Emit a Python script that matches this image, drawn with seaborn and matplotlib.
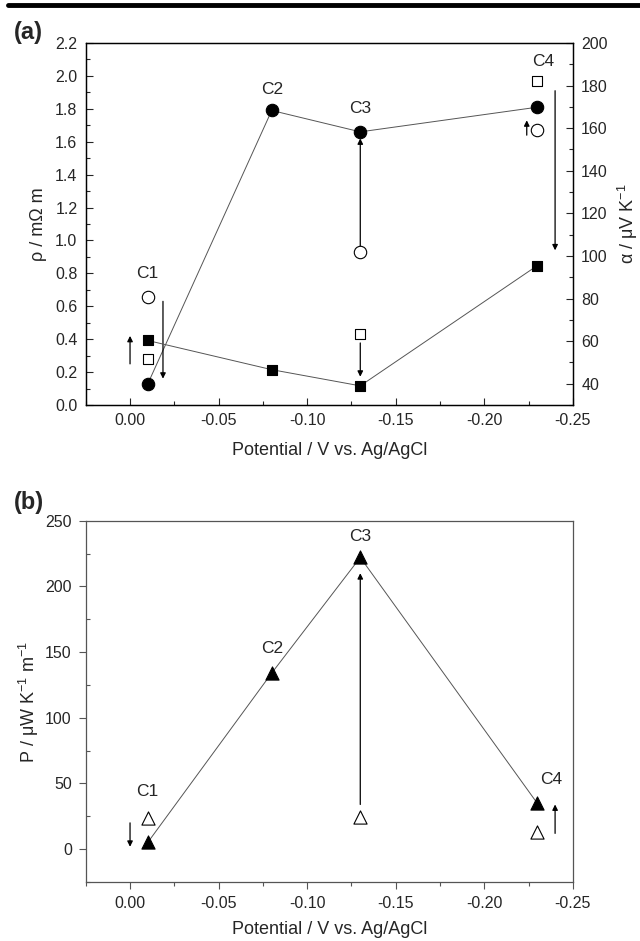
import seaborn as sns
import matplotlib.pyplot as plt
from matplotlib.lines import Line2D
from matplotlib.ticker import MultipleLocator

# ----- datos -----
etiquetas = ['C1', 'C2', 'C3', 'C4']
potencial = [-0.01, -0.08, -0.13, -0.23]

# panel (a): resistividad (eje izq.) y Seebeck (eje der.)
rho_final = [0.128, 1.79, 1.66, 1.81]          # circulos llenos
pot_inicial = [-0.01, -0.13, -0.23]
rho_inicial = [0.658, 0.93, 1.67]              # circulos vacios
alpha_final = [60.3, 46.6, 39.0, 95.5]         # cuadrados llenos
alpha_inicial = [51.6, 63.5, 182.0]            # cuadrados vacios

# panel (b): factor de potencia
P_final = [5.1, 134.0, 222.0, 34.8]            # triangulos llenos
P_inicial = [23.8, 24.6, 12.7]                 # triangulos vacios

# flechas (x, y_inicio, y_fin) en unidades del eje izquierdo
flechas_a = [(0.00, 0.25, 0.42), (-0.0186, 0.63, 0.16), (-0.13, 0.96, 1.62),
             (-0.13, 0.377, 0.172), (-0.224, 1.64, 1.73), (-0.24, 1.91, 0.94)]
flechas_b = [(0.00, 20.0, 1.8), (-0.13, 34.0, 210.0), (-0.24, 12.0, 34.0)]

# posiciones de las etiquetas C1..C4
pos_a = [(-0.01, 0.80), (-0.08, 1.92), (-0.13, 1.80), (-0.233, 2.09)]
pos_b = [(-0.01, 43.6), (-0.08, 153.0), (-0.13, 238.0), (-0.238, 53.0)]

sns.set_style("ticks")
plt.rcParams['font.family'] = ['Liberation Sans', 'DejaVu Sans']
plt.rcParams['mathtext.fontset'] = 'custom'
plt.rcParams['mathtext.rm'] = 'Liberation Sans'
plt.rcParams['mathtext.it'] = 'Liberation Sans:italic'
plt.rcParams['font.size'] = 11.5

T_TICK = 11.5
T_EJE = 13
T_C = 12.5

fig = plt.figure(figsize=(6.4, 9.41), dpi=100)
ax = fig.add_axes([0.134, 0.5696, 0.761, 0.3847])
ax2 = ax.twinx()
bx = fig.add_axes([0.134, 0.0627, 0.761, 0.384])

linea = dict(color='#555555', lw=0.7, sort=False, legend=False)
lleno = dict(color='black', edgecolor='black', linewidth=0.8, zorder=5, legend=False)
vacio = dict(color='white', edgecolor='black', linewidth=0.8, zorder=5, legend=False)

# ----- panel (a) -----
sns.lineplot(x=potencial, y=rho_final, ax=ax, **linea)
sns.scatterplot(x=potencial, y=rho_final, ax=ax, marker='o', s=80, **lleno)
sns.scatterplot(x=pot_inicial, y=rho_inicial, ax=ax, marker='o', s=80, **vacio)
sns.lineplot(x=potencial, y=alpha_final, ax=ax2, **linea)
sns.scatterplot(x=potencial, y=alpha_final, ax=ax2, marker='s', s=60, **lleno)
sns.scatterplot(x=pot_inicial, y=alpha_inicial, ax=ax2, marker='s', s=60, **vacio)

ax.set_xlim(0.025, -0.25)
ax.set_ylim(0, 2.2)
ax2.set_ylim(30, 200)
ax.xaxis.set_major_locator(MultipleLocator(0.05))
ax.xaxis.set_minor_locator(MultipleLocator(0.025))
ax.yaxis.set_major_locator(MultipleLocator(0.2))
ax.yaxis.set_minor_locator(MultipleLocator(0.1))
ax2.yaxis.set_major_locator(MultipleLocator(20))
ax2.yaxis.set_minor_locator(MultipleLocator(10))
ax.xaxis.set_major_formatter(lambda v, p: f"{v:.2f}".replace('-0.00', '0.00'))
ax.yaxis.set_major_formatter(lambda v, p: f"{v:.1f}")

for a in (ax, ax2):
    a.tick_params(which='major', direction='in', length=5, width=0.8, pad=6,
                  labelsize=T_TICK)
    a.tick_params(which='minor', direction='in', length=3, width=0.8)
    for s in a.spines.values():
        s.set_visible(True)
        s.set_linewidth(0.9)
        s.set_color('black')
ax.tick_params(top=False, which='both')
ax.set_xlabel("Potential / V vs. Ag/AgCl", fontsize=T_EJE, labelpad=10)
ax.set_ylabel("ρ / mΩ m", fontsize=T_EJE, labelpad=6)
ax2.set_ylabel("α / μV K$^{-1}$", fontsize=T_EJE, labelpad=6)

for x, y0, y1 in flechas_a:
    ax.annotate('', xy=(x, y1), xytext=(x, y0),
                arrowprops=dict(arrowstyle='-|>', color='black', lw=0.9,
                                mutation_scale=8, shrinkA=0, shrinkB=0))
for t, (x, y) in zip(etiquetas, pos_a):
    ax.text(x, y, t, ha='center', va='center', fontsize=T_C)

# ----- panel (b) -----
sns.lineplot(x=potencial, y=P_final, ax=bx, **linea)
sns.scatterplot(x=potencial, y=P_final, ax=bx, marker='^', s=90, **lleno)
sns.scatterplot(x=pot_inicial, y=P_inicial, ax=bx, marker='^', s=90, **vacio)

bx.set_xlim(0.025, -0.25)
bx.set_ylim(-25, 250)
bx.xaxis.set_major_locator(MultipleLocator(0.05))
bx.xaxis.set_minor_locator(MultipleLocator(0.025))
bx.yaxis.set_major_locator(MultipleLocator(50))
bx.yaxis.set_minor_locator(MultipleLocator(25))
bx.xaxis.set_major_formatter(lambda v, p: f"{v:.2f}".replace('-0.00', '0.00'))
bx.tick_params(which='major', direction='out', length=5, width=0.8, pad=5,
               labelsize=T_TICK, color='#555555')
bx.tick_params(which='minor', direction='out', length=3, width=0.8, color='#555555')
bx.tick_params(axis='y', which='minor', direction='in')
for s in bx.spines.values():
    s.set_visible(True)
    s.set_linewidth(0.9)
    s.set_color('#555555')
bx.set_xlabel("Potential / V vs. Ag/AgCl", fontsize=T_EJE, labelpad=7)
bx.set_ylabel("P / μW K$^{-1}$ m$^{-1}$", fontsize=T_EJE, labelpad=3)

for x, y0, y1 in flechas_b:
    bx.annotate('', xy=(x, y1), xytext=(x, y0),
                arrowprops=dict(arrowstyle='-|>', color='black', lw=0.9,
                                mutation_scale=8, shrinkA=0, shrinkB=0))
for t, (x, y) in zip(etiquetas, pos_b):
    bx.text(x, y, t, ha='center', va='center', fontsize=T_C)

# letras de panel y linea superior
fig.text(14 / 640, 1 - 32 / 941, "(a)", fontsize=17, fontweight='bold', va='center')
fig.text(14 / 640, 1 - 503 / 941, "(b)", fontsize=17, fontweight='bold', va='center')
fig.add_artist(Line2D([0.012, 1.0], [0.9945, 0.9945], transform=fig.transFigure,
                      color='black', lw=3.5))

plt.savefig("out.png", dpi=100)
plt.close()
